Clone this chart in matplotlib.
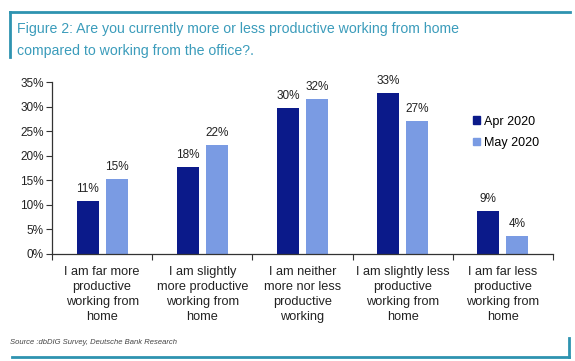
import numpy as np
import matplotlib.pyplot as plt
from matplotlib.lines import Line2D
from matplotlib.patches import Patch

plt.rcParams['font.family'] = ['Liberation Sans', 'DejaVu Sans']

categories = ["I am far more\nproductive\nworking from\nhome",
              "I am slightly\nmore productive\nworking from\nhome",
              "I am neither\nmore nor less\nproductive\nworking",
              "I am slightly less\nproductive\nworking from\nhome",
              "I am far less\nproductive\nworking from\nhome"]
apr_2020 = [10.8, 17.7, 29.8, 32.7, 8.8]
may_2020 = [15.3, 22.1, 31.6, 27.1, 3.7]
series_names = ["Apr 2020", "May 2020"]
yticks = [0, 5, 10, 15, 20, 25, 30, 35]
title_lines = ["Figure 2: Are you currently more or less productive working from home",
               "compared to working from the office?."]

DARK = "#0b1a8a"
LIGHT = "#7a9be3"
TEAL = "#2e93b0"
TEXT = "#222222"

fig = plt.figure(figsize=(5.75, 3.61), dpi=100)
ax = fig.add_axes([52 / 575, 1 - 254 / 361, 501 / 575, 172 / 361])

x = np.arange(len(categories))
w = 0.22
b1 = ax.bar(x - 0.145, apr_2020, w, color=DARK)
b2 = ax.bar(x + 0.145, may_2020, w, color=LIGHT)

for bars, vals in ((b1, apr_2020), (b2, may_2020)):
    for rect, v in zip(bars, vals):
        ax.text(rect.get_x() + rect.get_width() / 2, v + 1.2, f"{round(v)}%",
                ha="center", va="bottom", fontsize=8.5, color=TEXT)

ax.set_xlim(-0.5, len(categories) - 0.5)
ax.set_ylim(0, 35)
ax.set_yticks(yticks)
ax.set_yticklabels([f"{t}%" for t in yticks], fontsize=8.5, color=TEXT)
ax.set_xticks(np.arange(len(categories) + 1) - 0.5)
ax.set_xticklabels([])
ax.tick_params(axis="both", length=4, width=0.8, color="#333333", direction="out")
ax.tick_params(axis="y", pad=2)
for i, lab in enumerate(categories):
    ax.text(i, -2.5, lab, ha="center", va="top", fontsize=9.2, color=TEXT,
            linespacing=1.32)

for s in ("top", "right"):
    ax.spines[s].set_visible(False)
for s in ("left", "bottom"):
    ax.spines[s].set_color("#333333")
    ax.spines[s].set_linewidth(0.9)

handles = [Patch(color=DARK), Patch(color=LIGHT)]
fig.legend(handles, series_names, loc="upper left", bbox_to_anchor=(470 / 575, 1 - 113 / 361),
           frameon=False, fontsize=9, handlelength=0.6, handleheight=0.6,
           handletextpad=0.3, labelspacing=0.75, borderaxespad=0, borderpad=0.2)

# frame lines and title
fig.add_artist(Line2D([10 / 575, 570 / 575], [1 - 12 / 361] * 2, color=TEAL, lw=2))
fig.add_artist(Line2D([10 / 575] * 2, [1 - 12 / 361, 1 - 57 / 361], color=TEAL, lw=2))
fig.add_artist(Line2D([12 / 575, 569 / 575], [1 - 357 / 361] * 2, color=TEAL, lw=2))
fig.add_artist(Line2D([569 / 575] * 2, [1 - 357 / 361, 1 - 338 / 361], color=TEAL, lw=2))

for line, ypx in zip(title_lines, (28, 49)):
    fig.text(17 / 575, 1 - ypx / 361, line, ha="left", va="center_baseline",
             fontsize=10.2, color="#3b9cbb")
fig.text(10 / 575, 1 - 343 / 361, "Source :dbDIG Survey, Deutsche Bank Research",
         ha="left", va="center", fontsize=5.5, style="italic", color="#444444")

fig.savefig("out.png", dpi=100)
